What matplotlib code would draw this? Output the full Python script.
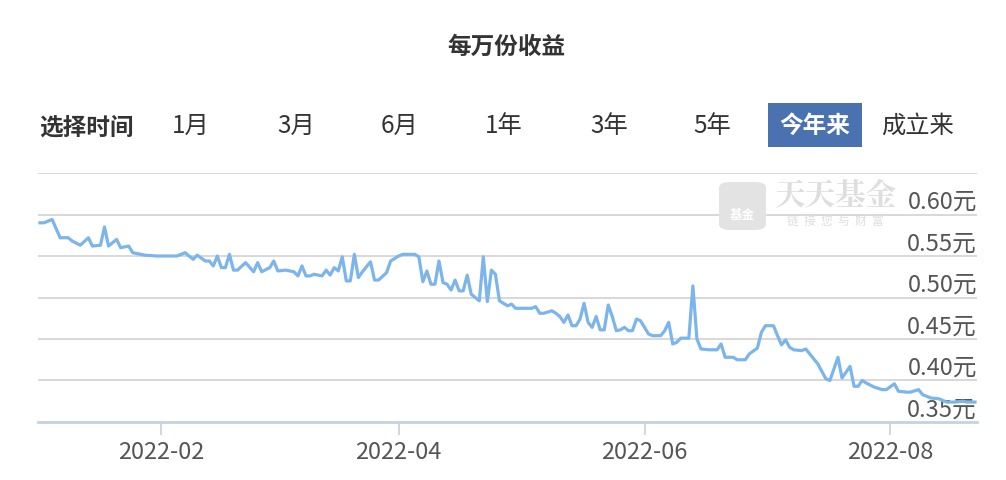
import datetime as dt
import numpy as np
import matplotlib
matplotlib.use("Agg")
import matplotlib.pyplot as plt
import matplotlib.dates as mdates
from matplotlib.patches import FancyBboxPatch, Rectangle
from matplotlib.transforms import blended_transform_factory

plt.rcParams['font.family'] = ['Noto Sans CJK SC', 'DejaVu Sans']

# 数据：距 2022-01-01 的天数 与 每万份收益（元）
days = [1, 2, 4, 6, 8, 9, 11, 13, 14, 16, 17, 18, 20, 21, 23, 24, 26, 27, 30, 35,
        37, 39, 40, 42, 43, 44, 45, 46, 47, 48, 49, 50, 52, 54, 55, 56, 58, 59, 60, 62,
        64, 65, 66, 67, 68, 69, 71, 72, 73, 74, 75, 76, 77, 78, 79, 80, 81, 83, 84, 85,
        87, 88, 90, 91, 94, 95, 96, 97, 98, 99, 100, 101, 102, 103, 104, 105, 106, 107, 108, 109,
        110, 111, 112, 113, 114, 115, 117, 118, 119, 120, 123, 124, 125, 126, 128, 129, 130, 131, 132, 133,
        134, 135, 136, 137, 138, 139, 140, 141, 142, 143, 144, 145, 146, 147, 148, 149, 150, 152, 153, 155,
        156, 157, 158, 159, 160, 162, 163, 164, 165, 167, 169, 170, 171, 173, 174, 176, 177, 179, 180, 181,
        183, 184, 185, 186, 187, 188, 190, 191, 193, 194, 195, 196, 197, 198, 199, 200, 201, 202, 203, 204,
        205, 206, 208, 210, 211, 213, 214, 216, 217, 219, 220, 222, 224, 226, 228, 230, 231, 233]
values = [0.590, 0.590, 0.594, 0.572, 0.572, 0.568, 0.563, 0.572, 0.562, 0.563, 0.585, 0.562, 0.570, 0.560, 0.562, 0.554, 0.552, 0.551, 0.550, 0.550,
          0.554, 0.546, 0.551, 0.544, 0.544, 0.538, 0.550, 0.536, 0.536, 0.552, 0.533, 0.533, 0.542, 0.531, 0.542, 0.531, 0.536, 0.544, 0.532, 0.533,
          0.531, 0.526, 0.538, 0.526, 0.526, 0.528, 0.526, 0.533, 0.527, 0.536, 0.532, 0.549, 0.520, 0.520, 0.552, 0.524, 0.531, 0.543, 0.521, 0.521,
          0.530, 0.544, 0.550, 0.552, 0.552, 0.549, 0.519, 0.532, 0.516, 0.516, 0.544, 0.518, 0.516, 0.509, 0.521, 0.508, 0.508, 0.527, 0.504, 0.500,
          0.496, 0.549, 0.495, 0.533, 0.528, 0.496, 0.490, 0.492, 0.487, 0.487, 0.487, 0.489, 0.481, 0.481, 0.484, 0.481, 0.477, 0.470, 0.479, 0.466,
          0.466, 0.474, 0.493, 0.470, 0.464, 0.477, 0.461, 0.461, 0.491, 0.477, 0.460, 0.461, 0.464, 0.460, 0.460, 0.474, 0.472, 0.456, 0.454, 0.454,
          0.460, 0.470, 0.444, 0.446, 0.451, 0.451, 0.514, 0.450, 0.438, 0.437, 0.437, 0.444, 0.428, 0.428, 0.425, 0.425, 0.432, 0.439, 0.458, 0.466,
          0.466, 0.454, 0.443, 0.449, 0.440, 0.437, 0.436, 0.438, 0.426, 0.420, 0.411, 0.402, 0.400, 0.414, 0.428, 0.403, 0.410, 0.417, 0.393, 0.393,
          0.400, 0.397, 0.392, 0.389, 0.389, 0.396, 0.387, 0.386, 0.386, 0.389, 0.383, 0.379, 0.378, 0.374, 0.374, 0.375, 0.374, 0.374]

y_ticks = [0.35, 0.40, 0.45, 0.50, 0.55, 0.60]
x_tick_months = [2, 4, 6, 8]
buttons = ['1月', '3月', '6月', '1年', '3年', '5年', '今年来', '成立来']
active_button = '今年来'

base = dt.date(2022, 1, 1)
dates = [base + dt.timedelta(days=d) for d in days]

W, H = 1006, 481
fig = plt.figure(figsize=(W / 100, H / 100), dpi=100)

# 标题和时间选择按钮
fig.text(506 / W, 1 - 47 / H, '每万份收益', ha='center', va='center',
         fontsize=17, fontweight='bold', color='#333333')
fig.text(86 / W, 1 - 127 / H, '选择时间', ha='center', va='center',
         fontsize=17, fontweight='bold', color='#333333')
btn_x = [191, 296, 400, 504, 609, 712, 815, 918]
for bx, label in zip(btn_x, buttons):
    if label == active_button:
        fig.patches.append(Rectangle((768 / W, 1 - 148 / H), 94 / W, 44 / H,
                                     transform=fig.transFigure, facecolor='#4a72b0',
                                     edgecolor='none'))
        fig.text(bx / W, 1 - 126 / H, label, ha='center', va='center',
                 fontsize=17, fontweight='bold', color='white')
    else:
        fig.text(bx / W, 1 - 126 / H, label, ha='center', va='center',
                 fontsize=17.5, color='#333333')

# 主图
ax = fig.add_axes([38 / W, 1 - 423 / H, 939 / W, 249 / H])
ax.plot(dates, values, color='#7cb5ec', lw=2.3, zorder=3, solid_joinstyle='round')

ax.set_ylim(0.35, 0.65)
ax.set_xlim(mdates.date2num(base) + 0.5, mdates.date2num(base) + 233.5)

for v in y_ticks[1:] + [0.65]:
    ax.axhline(v, color='#d6d6d6', lw=1.3, zorder=1)
tr = blended_transform_factory(ax.transAxes, ax.transData)
for v in y_ticks:
    ax.text(1.0, v + 0.002, f'{v:.2f}元', transform=tr, ha='right', va='bottom',
            fontsize=17, color='#555555', zorder=2)

ax.set_yticks([])
ax.xaxis.set_major_locator(mdates.MonthLocator(bymonth=x_tick_months))
ax.xaxis.set_major_formatter(mdates.DateFormatter('%Y-%m'))
ax.tick_params(axis='x', length=9, width=1.2, color='#c5d2e0', labelsize=17,
               labelcolor='#555555', pad=4)
for s in ['top', 'left', 'right']:
    ax.spines[s].set_visible(False)
ax.spines['bottom'].set_color('#c5d2e0')
ax.spines['bottom'].set_linewidth(2)

# 水印
fig.patches.append(FancyBboxPatch((719 / W, 1 - 231 / H), 47 / W, 48 / H,
                                  boxstyle='round,pad=0,rounding_size=0.012',
                                  transform=fig.transFigure, facecolor='#e3e3e3',
                                  edgecolor='none', zorder=0))
fig.text(742 / W, 1 - 216 / H, '基金', ha='center', va='center', fontsize=9,
         fontweight='bold', color='white')
fig.text(835 / W, 1 - 196 / H, '天天基金', ha='center', va='center', fontsize=22,
         fontweight='bold', color='#dedede', family=['Noto Serif CJK SC', 'Noto Sans CJK SC'])
fig.text(835 / W, 1 - 221 / H, '链  接  您  与  财  富', ha='center', va='center', fontsize=8.5,
         color='#dedede')

fig.savefig('out.png', dpi=100)
